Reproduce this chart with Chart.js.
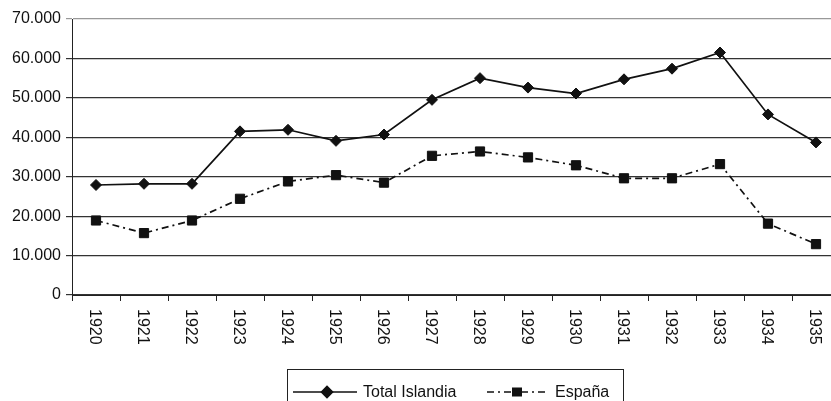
<!DOCTYPE html>
<html>
<head>
<meta charset="utf-8">
<script src="https://cdn.jsdelivr.net/npm/chart.js@4/dist/chart.umd.min.js"></script>
<style>
  html, body { margin: 0; padding: 0; background: #fff; overflow: hidden; }
  #wrap { width: 831px; height: 401px; overflow: hidden; }
</style>
</head>
<body>
<div id="wrap"><canvas id="chart" width="850" height="401"></canvas></div>
<script>
var years = ['1920', '1921', '1922', '1923', '1924', '1925', '1926', '1927',
             '1928', '1929', '1930', '1931', '1932', '1933', '1934', '1935'];
var totalIslandia = [27900, 28200, 28200, 41500, 41900, 39100, 40700, 49500,
                     55000, 52600, 51100, 54700, 57400, 61500, 45800, 38700];
var espana = [18900, 15700, 18900, 24400, 28800, 30400, 28500, 35300,
              36400, 34900, 32900, 29600, 29600, 33200, 18100, 12900];
var seriesNames = ['Total Islandia', 'España'];
var yMax = 70000;
var yStep = 10000;

var FONT = '"Liberation Sans", Arial, sans-serif';

// rotated year labels (reading top to bottom) + boxed legend
var extras = {
    id: 'extras',
    afterDraw: function (chart) {
        var ctx = chart.ctx;
        var xs = chart.scales.x;
        ctx.save();
        ctx.fillStyle = '#111';
        ctx.font = '16px ' + FONT;
        ctx.textAlign = 'left';
        ctx.textBaseline = 'middle';
        years.forEach(function (y, i) {
            var px = xs.getPixelForValue(i);
            ctx.save();
            ctx.translate(px - 2, xs.top + 14);
            ctx.rotate(Math.PI / 2);
            ctx.fillText(y, 0, 0);
            ctx.restore();
        });

        // legend box
        ctx.strokeStyle = '#222';
        ctx.lineWidth = 1;
        ctx.strokeRect(287.5, 369.5, 336, 50);
        var ly = 392;
        var ds = chart.data.datasets;
        // Total Islandia sample
        ctx.strokeStyle = '#111';
        ctx.lineWidth = 1.7;
        ctx.setLineDash([]);
        ctx.beginPath(); ctx.moveTo(293, ly); ctx.lineTo(357, ly); ctx.stroke();
        Chart.helpers.drawPoint(ctx, { pointStyle: 'rectRot', radius: 5.5, borderWidth: 1 }, 327, ly);
        ctx.fillStyle = '#111';
        ctx.fill();
        ctx.fillText(ds[0].label, 363, ly + 1);
        // España sample
        ctx.setLineDash([7, 4, 2, 4]);
        ctx.beginPath(); ctx.moveTo(487, ly); ctx.lineTo(547, ly); ctx.stroke();
        ctx.setLineDash([]);
        ctx.fillRect(512, ly - 4.5, 10, 9);
        ctx.fillText(ds[1].label, 555, ly + 1);
        ctx.restore();
    }
};

new Chart(document.getElementById('chart'), {
    type: 'line',
    data: {
        labels: years,
        datasets: [{
            label: seriesNames[0],
            data: totalIslandia,
            borderColor: '#111',
            backgroundColor: '#111',
            borderWidth: 1.7,
            pointStyle: 'rectRot',
            pointRadius: 5.5,
            pointBorderWidth: 1,
            tension: 0
        }, {
            label: seriesNames[1],
            data: espana,
            borderColor: '#111',
            backgroundColor: '#111',
            borderWidth: 1.7,
            borderDash: [7, 4, 2, 4],
            pointStyle: 'rect',
            pointRadius: 6.5,
            pointBorderWidth: 1,
            tension: 0
        }]
    },
    options: {
        responsive: false,
        animation: false,
        layout: { padding: { top: 19, right: 10, left: 0, bottom: 0 } },
        plugins: {
            legend: { display: false },
            tooltip: { enabled: false }
        },
        scales: {
            x: {
                offset: true,
                grid: { offset: true, drawOnChartArea: false, drawTicks: true, tickLength: 6, color: '#222' },
                border: { color: '#222', width: 1 },
                ticks: { display: false },
                afterFit: function (s) { s.height = 106; }
            },
            y: {
                min: 0,
                max: yMax,
                ticks: {
                    stepSize: yStep,
                    color: '#111',
                    padding: 5,
                    font: { family: FONT, size: 16 },
                    callback: function (v) { return v.toLocaleString('de-DE'); }
                },
                grid: {
                    color: function (c) { return c.tick && c.tick.value === yMax ? '#999' : '#333'; },
                    lineWidth: 1.2,
                    tickLength: 6
                },
                border: { color: '#222', width: 1 },
                afterFit: function (s) { s.width = 72; }
            }
        }
    },
    plugins: [extras]
});
</script>
</body>
</html>
